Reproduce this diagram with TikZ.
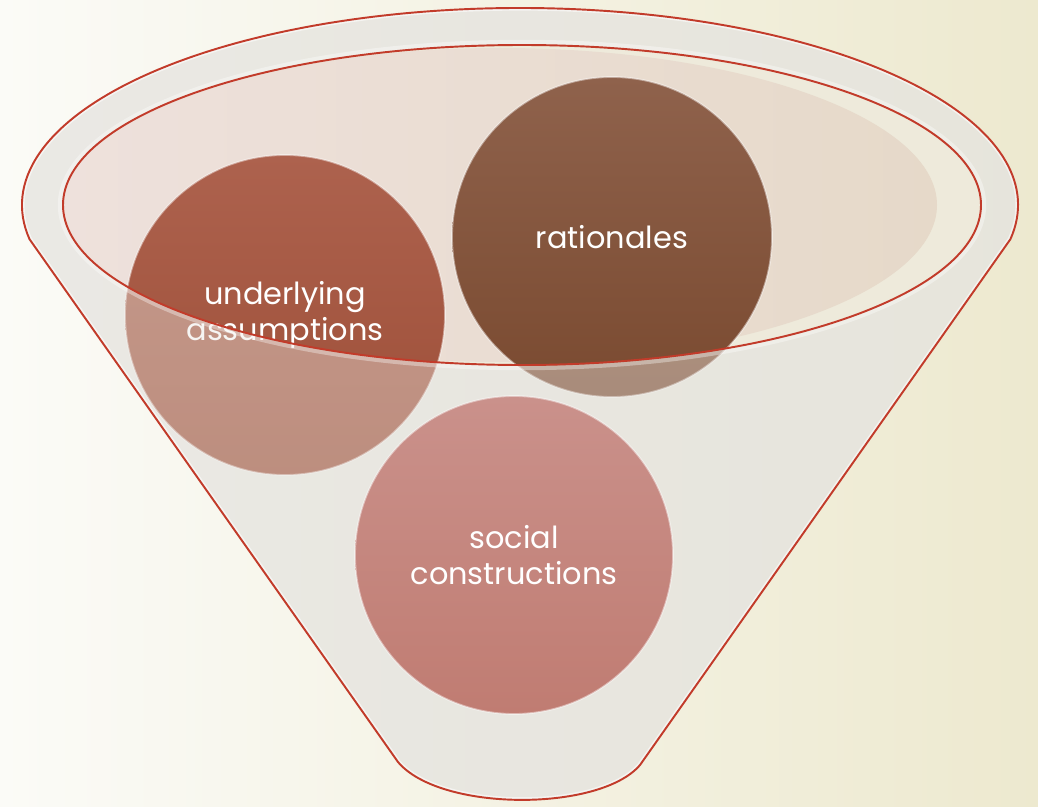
\documentclass[tikz,border=0pt]{standalone}
\usepackage{fontspec}
\setmainfont{Poppins}
\usetikzlibrary{calc}
\definecolor{bgL}{HTML}{FBFBF7}
\definecolor{bgR}{HTML}{EDE9CF}
\definecolor{funL}{HTML}{EBEAE6}
\definecolor{funR}{HTML}{E4E2D6}
\definecolor{openC}{HTML}{EEEADB}
\definecolor{pinkL}{HTML}{EEE1DC}
\definecolor{pinkR}{HTML}{E6D9C9}
\definecolor{edgeRed}{HTML}{C23B2A}
\definecolor{uaTop}{HTML}{AD624E}
\definecolor{uaBot}{HTML}{9D4E37}
\definecolor{raTop}{HTML}{8F624C}
\definecolor{raBot}{HTML}{7A4A30}
\definecolor{scTop}{HTML}{CA918B}
\definecolor{scBot}{HTML}{C07C72}
\definecolor{veil}{HTML}{EAE8E3}
\tikzset{
  ball/.style={circle, minimum size=6.4cm, inner sep=0pt, draw=white, draw opacity=0.45,
    line width=1pt, text=white, align=center,
    font=\fontsize{17.3}{20.5}\selectfont},
  rimline/.style={draw=edgeRed, line width=1.1pt},
}
\begin{document}
\begin{tikzpicture}[x=0.02cm, y=0.02cm]
\useasboundingbox (0,0) rectangle (1038,806);
\shade[left color=bgL, right color=bgR] (0,0) rectangle (1038,806);
% funnel outline coordinates
\coordinate (fr) at (1010.4,566.8);
\coordinate (fl) at (29.6,566.8);
\coordinate (bl) at (398,44);
\coordinate (br) at (640,41);
\def\funnelpath{(fr) arc[start angle=-10, end angle=190, x radius=498, y radius=197] -- (bl) .. controls (440,-6) and (600,-6) .. (br) -- cycle}
% funnel body
\shade[left color=funL, right color=funR] \funnelpath;
% opening
\fill[openC] (522,601) ellipse [x radius=459, y radius=160];
\shade[left color=pinkL, right color=pinkR] (500,601) ellipse [x radius=437, y radius=157];
% circles in the opening
\node[ball, top color=uaTop, bottom color=uaBot] (ua) at (285,491) {underlying\\assumptions};
\node[ball, top color=raTop, bottom color=raBot] (ra) at (612,569) {rationales};
% translucent front of funnel
\fill[veil, fill opacity=0.42, even odd rule] \funnelpath (522,601) ellipse [x radius=459, y radius=160];
% lower circle
\node[ball, minimum size=6.36cm, top color=scTop, bottom color=scBot] (sc) at (514,251) {social\\constructions};
% highlights inside the rim
\begin{scope}
  \clip \funnelpath;
  \draw[white, line width=3pt, opacity=0.55] \funnelpath;
\end{scope}
\draw[white, line width=2.5pt, opacity=0.35] (522,601) ellipse [x radius=462, y radius=163];
% outlines
\draw[rimline] \funnelpath;
\draw[rimline] (522,601) ellipse [x radius=459, y radius=160];
\end{tikzpicture}
\end{document}
